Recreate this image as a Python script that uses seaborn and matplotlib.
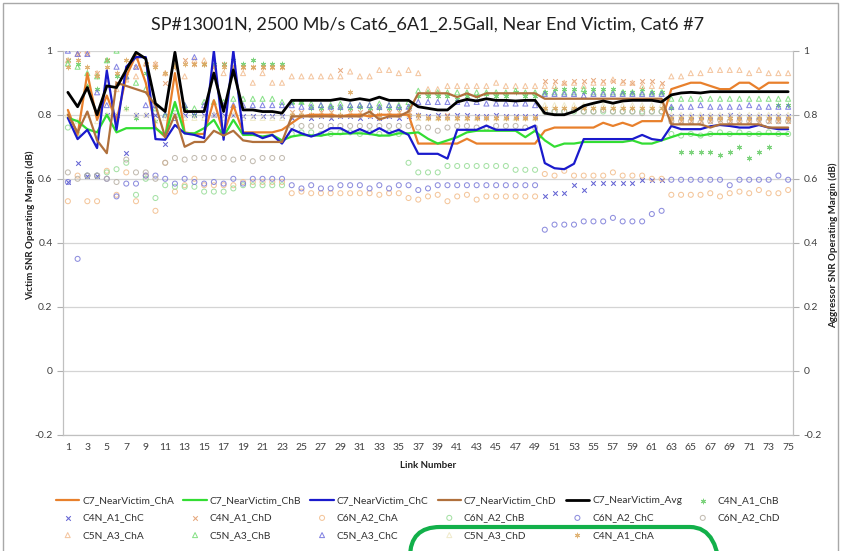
import matplotlib
matplotlib.use('Agg')
import matplotlib.pyplot as plt
import seaborn as sns
from matplotlib.patches import FancyBboxPatch, Rectangle
from matplotlib.transforms import IdentityTransform

# link numbers on the category axis
links = list(range(1, 76))
x_tick_labels = [str(i) for i in range(1, 76, 2)]
y_ticks = [-0.2, 0, 0.2, 0.4, 0.6, 0.8, 1]
y_tick_labels = ['-0.2', '0', '0.2', '0.4', '0.6', '0.8', '1']

# near victim lines
near_cha = [0.815, 0.737, 0.93, 0.784, 0.86, 0.78, 0.92, 0.986, 0.90, 0.76, 0.73, 0.93, 0.745, 0.74, 0.74, 0.845, 0.74, 0.83, 0.745, 0.745, 0.745, 0.745, 0.753,
            0.774, 0.795, 0.80, 0.80, 0.80, 0.795, 0.80, 0.80, 0.795, 0.80, 0.80, 0.80, 0.80,
            0.71, 0.71, 0.71, 0.71, 0.71, 0.725, 0.71, 0.71, 0.71, 0.71, 0.71, 0.71, 0.71,
            0.75, 0.76, 0.76, 0.76, 0.76, 0.76, 0.775, 0.765, 0.775, 0.765, 0.78, 0.78, 0.78,
            0.88, 0.89, 0.90, 0.90, 0.89, 0.88, 0.88, 0.90, 0.90, 0.88, 0.90, 0.90, 0.90]
near_chb = [0.79, 0.78, 0.755, 0.745, 0.80, 0.745, 0.758, 0.758, 0.758, 0.758, 0.735, 0.84, 0.742, 0.742, 0.758, 0.784, 0.732, 0.784, 0.737, 0.737, 0.732, 0.737, 0.72,
            0.732, 0.737, 0.735, 0.735, 0.74, 0.74, 0.742, 0.742, 0.74, 0.735, 0.735, 0.742, 0.742,
            0.745, 0.725, 0.71, 0.72, 0.73, 0.745, 0.75, 0.75, 0.75, 0.75, 0.75, 0.73, 0.75,
            0.72, 0.70, 0.71, 0.71, 0.715, 0.715, 0.715, 0.715, 0.715, 0.72, 0.71, 0.71, 0.72,
            0.73, 0.74, 0.74, 0.735, 0.74, 0.74, 0.74, 0.74, 0.74, 0.74, 0.74, 0.74, 0.74]
near_chc = [0.79, 0.724, 0.753, 0.696, 0.938, 0.753, 0.95, 0.98, 0.98, 0.724, 0.722, 0.768, 0.742, 0.737, 0.727, 1.0, 0.722, 1.0, 0.742, 0.742, 0.727, 0.737, 0.71,
            0.755, 0.742, 0.732, 0.742, 0.758, 0.758, 0.742, 0.755, 0.742, 0.758, 0.742, 0.753, 0.737,
            0.678, 0.678, 0.678, 0.663, 0.753, 0.753, 0.753, 0.766, 0.753, 0.753, 0.753, 0.753, 0.766,
            0.649, 0.633, 0.63, 0.647, 0.724, 0.724, 0.724, 0.724, 0.724, 0.724, 0.737, 0.724, 0.72,
            0.765, 0.755, 0.755, 0.755, 0.764, 0.768, 0.765, 0.76, 0.76, 0.768, 0.76, 0.755, 0.755]
near_chd = [0.80, 0.745, 0.81, 0.72, 0.68, 0.90, 0.89, 0.88, 0.87, 0.83, 0.73, 0.80, 0.70, 0.715, 0.715, 0.75, 0.735, 0.75, 0.72, 0.715, 0.715, 0.715, 0.715,
            0.795, 0.795, 0.795, 0.795, 0.795, 0.795, 0.795, 0.795, 0.81, 0.785, 0.795, 0.795, 0.81,
            0.867, 0.867, 0.867, 0.867, 0.855, 0.867, 0.855, 0.867, 0.867, 0.867, 0.867, 0.867, 0.867,
            0.85, 0.85, 0.85, 0.85, 0.85, 0.85, 0.85, 0.85, 0.85, 0.85, 0.85, 0.85, 0.85,
            0.77, 0.77, 0.77, 0.77, 0.76, 0.77, 0.77, 0.77, 0.77, 0.77, 0.76, 0.76, 0.76]
near_avg = [0.87, 0.825, 0.885, 0.80, 0.89, 0.885, 0.94, 0.995, 0.975, 0.835, 0.81, 0.995, 0.81, 0.81, 0.81, 0.93, 0.81, 0.94, 0.815, 0.815, 0.81, 0.81, 0.805,
            0.845, 0.845, 0.845, 0.845, 0.845, 0.85, 0.845, 0.85, 0.845, 0.855, 0.845, 0.845, 0.845,
            0.825, 0.82, 0.815, 0.815, 0.84, 0.848, 0.843, 0.85, 0.845, 0.845, 0.843, 0.845, 0.845,
            0.805, 0.80, 0.80, 0.81, 0.828, 0.836, 0.843, 0.836, 0.843, 0.845, 0.845, 0.845, 0.84,
            0.862, 0.868, 0.87, 0.868, 0.872, 0.872, 0.872, 0.872, 0.872, 0.872, 0.872, 0.872, 0.872]

# aggressor markers
c4n_a1_chb = [0.97, 0.96, 0.89, 0.88, 0.97, 0.92, 0.82, 0.79, 0.93, 0.78, 0.80, 0.96, 0.82, 0.80, 0.96, 0.96, 0.96, 0.97, 0.96, 0.97, 0.96, 0.96, 0.96,
              0.84, 0.84, 0.82, 0.82, 0.825, 0.82, 0.82, 0.825, 0.82, 0.82, 0.82, 0.82, 0.825,
              0.86, 0.86, 0.86, 0.86, 0.85, 0.86, 0.86, 0.865, 0.86, 0.86, 0.87, 0.86, 0.86,
              0.87, 0.88, 0.88, 0.88, 0.87, 0.88, 0.88, 0.88, 0.87, 0.87, 0.88, 0.87, 0.87,
              0.82, 0.685, 0.685, 0.685, 0.685, 0.675, 0.685, 0.70, 0.665, 0.685, 0.70, 0.83, 0.83]
c4n_a1_chc = [0.59, 0.65, 0.61, 0.61, 0.80, 0.80, 0.68, 0.80, 0.80, 0.80, 0.71, 0.80, 0.80, 0.80, 0.80, 0.80, 0.80, 0.80, 0.795, 0.795, 0.795, 0.795, 0.795,
              0.79, 0.795, 0.79, 0.795, 0.79, 0.795, 0.795, 0.79, 0.795, 0.79, 0.795, 0.79, 0.795,
              0.80, 0.795, 0.80, 0.795, 0.80, 0.80, 0.795, 0.795, 0.80, 0.795, 0.795, 0.795, 0.795,
              0.545, 0.556, 0.556, 0.58, 0.566, 0.587, 0.587, 0.587, 0.587, 0.587, 0.597, 0.597, 0.597,
              0.795, 0.795, 0.795, 0.795, 0.795, 0.795, 0.80, 0.795, 0.795, 0.795, 0.795, 0.795, 0.795]
c4n_a1_chd = [0.97, 0.99, 0.99, 0.93, 0.97, 0.90, 0.92, 0.95, 0.96, 0.96, 0.90, 0.96, 0.97, 0.96, 0.96, 0.95, 0.96, 0.95, 0.95, 0.95, 0.95, 0.95, 0.95,
              0.81, 0.81, 0.80, 0.81, 0.81, 0.94, 0.81, 0.81, 0.81, 0.80, 0.81, 0.81, 0.81,
              0.79, 0.79, 0.79, 0.80, 0.79, 0.79, 0.79, 0.79, 0.79, 0.79, 0.79, 0.79, 0.79,
              0.905, 0.905, 0.90, 0.905, 0.905, 0.91, 0.905, 0.905, 0.905, 0.90, 0.905, 0.905, 0.90,
              0.78, 0.78, 0.78, 0.78, 0.78, 0.785, 0.78, 0.78, 0.78, 0.78, 0.78, 0.78, 0.78]
c6n_a2_cha = [0.53, 0.61, 0.53, 0.53, 0.625, 0.55, 0.62, 0.53, 0.61, 0.50, 0.65, 0.56, 0.58, 0.60, 0.58, 0.58, 0.58, 0.58, 0.59, 0.59, 0.59, 0.59, 0.59,
              0.555, 0.56, 0.555, 0.555, 0.555, 0.555, 0.555, 0.555, 0.555, 0.55, 0.555, 0.555, 0.54,
              0.535, 0.545, 0.55, 0.53, 0.545, 0.55, 0.535, 0.545, 0.545, 0.545, 0.545, 0.545, 0.545,
              0.615, 0.61, 0.625, 0.61, 0.61, 0.61, 0.61, 0.62, 0.61, 0.61, 0.61, 0.60, 0.60,
              0.55, 0.55, 0.55, 0.55, 0.555, 0.545, 0.555, 0.56, 0.555, 0.565, 0.555, 0.555, 0.565]
c6n_a2_chb = [0.76, 0.74, 0.61, 0.61, 0.62, 0.63, 0.65, 0.55, 0.60, 0.54, 0.58, 0.575, 0.575, 0.575, 0.56, 0.56, 0.56, 0.57, 0.58, 0.58, 0.58, 0.58, 0.58,
              0.74, 0.745, 0.745, 0.74, 0.74, 0.745, 0.745, 0.74, 0.745, 0.74, 0.745, 0.74, 0.65,
              0.62, 0.62, 0.62, 0.64, 0.64, 0.64, 0.64, 0.64, 0.64, 0.64, 0.628, 0.628, 0.628,
              0.81, 0.81, 0.81, 0.81, 0.81, 0.81, 0.81, 0.81, 0.81, 0.81, 0.81, 0.81, 0.81,
              0.74, 0.735, 0.74, 0.735, 0.74, 0.745, 0.74, 0.745, 0.74, 0.74, 0.745, 0.74, 0.74]
c6n_a2_chc = [0.59, 0.35, 0.61, 0.61, 0.60, 0.545, 0.585, 0.585, 0.61, 0.61, 0.60, 0.585, 0.60, 0.59, 0.585, 0.59, 0.585, 0.60, 0.585, 0.60, 0.60, 0.60, 0.60,
              0.58, 0.57, 0.58, 0.57, 0.57, 0.58, 0.58, 0.58, 0.57, 0.58, 0.57, 0.58, 0.58,
              0.565, 0.57, 0.58, 0.58, 0.58, 0.58, 0.58, 0.58, 0.58, 0.58, 0.58, 0.58, 0.58,
              0.441, 0.457, 0.457, 0.457, 0.467, 0.467, 0.467, 0.478, 0.467, 0.467, 0.467, 0.49, 0.50,
              0.597, 0.597, 0.597, 0.597, 0.597, 0.597, 0.58, 0.597, 0.597, 0.597, 0.597, 0.61, 0.597]
c6n_a2_chd = [0.62, 0.60, 0.61, 0.61, 0.60, 0.59, 0.66, 0.62, 0.62, 0.60, 0.65, 0.665, 0.66, 0.665, 0.665, 0.665, 0.665, 0.66, 0.665, 0.655, 0.665, 0.665, 0.665,
              0.765, 0.765, 0.765, 0.765, 0.765, 0.765, 0.765, 0.765, 0.765, 0.765, 0.765, 0.765, 0.765,
              0.76, 0.76, 0.75, 0.76, 0.765, 0.765, 0.76, 0.76, 0.765, 0.765, 0.765, 0.76, 0.76,
              0.81, 0.81, 0.81, 0.815, 0.81, 0.81, 0.815, 0.81, 0.81, 0.81, 0.805, 0.81, 0.81,
              0.78, 0.78, 0.78, 0.775, 0.78, 0.785, 0.78, 0.78, 0.78, 0.785, 0.78, 0.78, 0.78]
c5n_a3_cha = [0.97, 0.99, 1.0, 0.93, 0.90, 0.88, 0.91, 0.92, 0.96, 0.96, 0.93, 0.96, 0.92, 0.97, 0.97, 0.93, 0.93, 0.96, 0.93, 0.90, 0.93, 0.90, 0.90,
              0.92, 0.92, 0.92, 0.92, 0.92, 0.92, 0.935, 0.92, 0.92, 0.94, 0.94, 0.93, 0.94,
              0.93, 0.88, 0.88, 0.89, 0.89, 0.89, 0.89, 0.89, 0.90, 0.89, 0.89, 0.89, 0.89,
              0.89, 0.89, 0.90, 0.90, 0.89, 0.90, 0.90, 0.91, 0.90, 0.90, 0.89, 0.89, 0.89,
              0.92, 0.92, 0.93, 0.93, 0.94, 0.94, 0.94, 0.94, 0.93, 0.94, 0.93, 0.93, 0.93]
c5n_a3_chb = [0.96, 0.95, 0.93, 0.92, 0.97, 1.0, 0.92, 0.90, 0.88, 0.82, 0.80, 0.82, 0.83, 0.82, 0.84, 0.84, 0.84, 0.85, 0.85, 0.85, 0.85, 0.85, 0.84,
              0.84, 0.84, 0.835, 0.83, 0.83, 0.835, 0.83, 0.83, 0.83, 0.835, 0.83, 0.83, 0.84,
              0.875, 0.87, 0.87, 0.87, 0.87, 0.87, 0.87, 0.87, 0.87, 0.87, 0.875, 0.87, 0.87,
              0.87, 0.87, 0.87, 0.87, 0.88, 0.87, 0.87, 0.87, 0.87, 0.87, 0.87, 0.87, 0.87,
              0.85, 0.85, 0.85, 0.85, 0.85, 0.85, 0.85, 0.85, 0.85, 0.85, 0.85, 0.85, 0.85]
c5n_a3_chc = [1.0, 0.99, 0.99, 0.87, 0.83, 0.95, 0.92, 0.95, 0.83, 0.83, 0.80, 0.79, 0.83, 0.98, 0.83, 0.80, 0.83, 0.83, 0.83, 0.83, 0.83, 0.83, 0.83,
              0.83, 0.825, 0.825, 0.83, 0.825, 0.825, 0.83, 0.83, 0.83, 0.825, 0.83, 0.825, 0.825,
              0.84, 0.84, 0.84, 0.84, 0.84, 0.835, 0.84, 0.835, 0.835, 0.835, 0.835, 0.835, 0.83,
              0.865, 0.865, 0.865, 0.865, 0.86, 0.865, 0.865, 0.865, 0.865, 0.865, 0.865, 0.865, 0.865,
              0.825, 0.825, 0.825, 0.83, 0.825, 0.825, 0.825, 0.825, 0.83, 0.825, 0.825, 0.825, 0.825]
c5n_a3_chd = [0.80, 0.78, 0.80, 0.78, 0.80, 0.80, 0.82, 0.80, 0.80, 0.78, 0.79, 0.80, 0.79, 0.79, 0.79, 0.80, 0.79, 0.80, 0.79, 0.79, 0.79, 0.79, 0.79,
              0.80, 0.80, 0.80, 0.80, 0.80, 0.80, 0.80, 0.80, 0.80, 0.80, 0.80, 0.80, 0.80,
              0.79, 0.79, 0.79, 0.79, 0.79, 0.79, 0.79, 0.79, 0.79, 0.79, 0.79, 0.79, 0.79,
              0.83, 0.83, 0.83, 0.83, 0.83, 0.83, 0.83, 0.83, 0.83, 0.83, 0.83, 0.83, 0.83,
              0.80, 0.80, 0.80, 0.80, 0.80, 0.80, 0.80, 0.80, 0.80, 0.80, 0.80, 0.80, 0.80]
c4n_a1_cha = [0.95, 0.97, 0.95, 0.92, 0.95, 0.93, 0.97, 0.98, 0.96, 0.95, 0.93, 0.95, 0.96, 0.96, 0.96, 0.95, 0.95, 0.95, 0.95, 0.95, 0.95, 0.95, 0.95,
              0.80, 0.80, 0.80, 0.80, 0.80, 0.80, 0.87, 0.80, 0.80, 0.80, 0.80, 0.80, 0.80,
              0.80, 0.79, 0.79, 0.79, 0.79, 0.79, 0.79, 0.79, 0.79, 0.79, 0.79, 0.79, 0.79,
              0.82, 0.82, 0.82, 0.82, 0.82, 0.82, 0.82, 0.82, 0.82, 0.82, 0.82, 0.82, 0.82,
              0.79, 0.79, 0.79, 0.79, 0.79, 0.79, 0.79, 0.79, 0.79, 0.79, 0.79, 0.79, 0.79]

sns.set_style('white')
plt.rcParams['font.family'] = ['Lato', 'DejaVu Sans']

fig = plt.figure(figsize=(8.42, 5.51), dpi=100)
ax = fig.add_axes([63 / 842, 1 - 435 / 551, 730 / 842, (435 - 50.7) / 551])

# marker series: (name, values, marker, colour, hollow)
scatter_series = [
    ('C4N_A1_ChB', c4n_a1_chb, (6, 2, 0), '#66cc66', False),
    ('C4N_A1_ChC', c4n_a1_chc, 'x', '#4a4acc', False),
    ('C4N_A1_ChD', c4n_a1_chd, 'x', '#e29a68', False),
    ('C6N_A2_ChA', c6n_a2_cha, 'o', '#f2bc8a', True),
    ('C6N_A2_ChB', c6n_a2_chb, 'o', '#96dc96', True),
    ('C6N_A2_ChC', c6n_a2_chc, 'o', '#7a7ad8', True),
    ('C6N_A2_ChD', c6n_a2_chd, 'o', '#b8b0a4', True),
    ('C5N_A3_ChA', c5n_a3_cha, '^', '#f2bc90', True),
    ('C5N_A3_ChB', c5n_a3_chb, '^', '#74dc74', True),
    ('C5N_A3_ChC', c5n_a3_chc, '^', '#7070dd', True),
    ('C5N_A3_ChD', c5n_a3_chd, '^', '#eee8c4', True),
    ('C4N_A1_ChA', c4n_a1_cha, (6, 2, 0), '#dca860', False),
]
for name, vals, mk, col, hollow in scatter_series:
    if hollow:
        sns.scatterplot(x=links, y=vals, marker=mk, s=13, facecolor='none',
                        edgecolor=col, linewidth=0.75, alpha=0.85, ax=ax, label=name, zorder=2)
    else:
        sns.scatterplot(x=links, y=vals, marker=mk, s=11, facecolor=col,
                        linewidth=0.75, alpha=0.85, ax=ax, label=name, zorder=2)

line_series = [
    ('C7_NearVictim_ChA', near_cha, '#e8802c', 1.6),
    ('C7_NearVictim_ChB', near_chb, '#33dd33', 1.6),
    ('C7_NearVictim_ChC', near_chc, '#1a1acc', 1.6),
    ('C7_NearVictim_ChD', near_chd, '#b0703c', 1.6),
    ('C7_NearVictim_Avg', near_avg, '#000000', 2.0),
]
for name, vals, col, lw in line_series:
    sns.lineplot(x=links, y=vals, color=col, linewidth=lw, ax=ax, label=name, zorder=3)

ax.set_xlim(0.5, 75.5)
ax.set_ylim(-0.2, 1)
ax.set_yticks(y_ticks)
ax.set_yticklabels(y_tick_labels)
ax.set_xticks(list(range(1, 76, 2)))
ax.set_xticklabels(x_tick_labels)
ax.set_xticks([i + 0.5 for i in range(0, 76)], minor=True)
ax.tick_params(axis='x', which='major', length=0, labelsize=7.5, colors='#404040', pad=6)
ax.tick_params(axis='x', which='minor', length=4, color='#b0b0b0', direction='out')
ax.tick_params(axis='y', length=4, color='#b0b0b0', labelsize=7.5, labelcolor='#404040', direction='out')
ax.grid(axis='y', color='#d4d4d4', linewidth=0.9)
ax.set_axisbelow(True)
for side in ['left', 'bottom', 'right']:
    ax.spines[side].set_color('#c0c0c0')
ax.spines['top'].set_visible(False)
ax.set_xlabel('')
ax.set_ylabel('')

ax2 = ax.twinx()
ax2.set_ylim(-0.2, 1)
ax2.set_yticks(y_ticks)
ax2.set_yticklabels(y_tick_labels)
ax2.tick_params(axis='y', length=4, color='#b0b0b0', labelsize=7.5, labelcolor='#404040', direction='out')
for side in ['left', 'bottom', 'right']:
    ax2.spines[side].set_color('#c0c0c0')
ax2.spines['top'].set_visible(False)

fig.text(428 / 842, 1 - 25 / 551, 'SP#13001N, 2500 Mb/s Cat6_6A1_2.5Gall, Near End Victim, Cat6 #7',
         ha='center', va='center', fontsize=13, color='#202020')
fig.text(30 / 842, 1 - 225 / 551, 'Victim SNR Operating Margin (dB)', rotation=90,
         ha='center', va='center', fontsize=7, fontweight='bold', color='#202020')
fig.text(833 / 842, 1 - 245 / 551, 'Aggressor SNR Operating Margin (dB)', rotation=90,
         ha='center', va='center', fontsize=7, fontweight='bold', color='#202020')
fig.text(428 / 842, 1 - 466 / 551, 'Link Number', ha='center', va='center',
         fontsize=7, fontweight='bold', color='#202020')

# legend, row-major with 6 columns
handles, labels = ax.get_legend_handles_labels()
ax.get_legend().remove()
order_names = [s[0] for s in line_series] + [s[0] for s in scatter_series]
lookup = dict(zip(labels, handles))
rows = [order_names[0:6], order_names[6:12], order_names[12:17]]
ordered = []
for c in range(6):
    for r in rows:
        if c < len(r):
            ordered.append(r[c])
fig.legend([lookup[n] for n in ordered], ordered, ncol=6, loc='center',
           bbox_to_anchor=(418 / 842, 1 - 518 / 551), frameon=False, fontsize=7.3,
           handlelength=2.3, handletextpad=0.3, columnspacing=0.9, labelspacing=0.8,
           labelcolor='#303030')

# outer chart border and the green highlight outline
fig.add_artist(Rectangle((3, -10), 835, 551 - 3 + 10, transform=IdentityTransform(),
                         fill=False, edgecolor='#a8a8a8', linewidth=1))
fig.add_artist(FancyBboxPatch((410, -60), 310, 551 - 527 + 60, transform=IdentityTransform(),
                              boxstyle='round,pad=0,rounding_size=30', fill=False,
                              edgecolor='#12b04a', linewidth=3))

fig.savefig('out.png', dpi=100)
